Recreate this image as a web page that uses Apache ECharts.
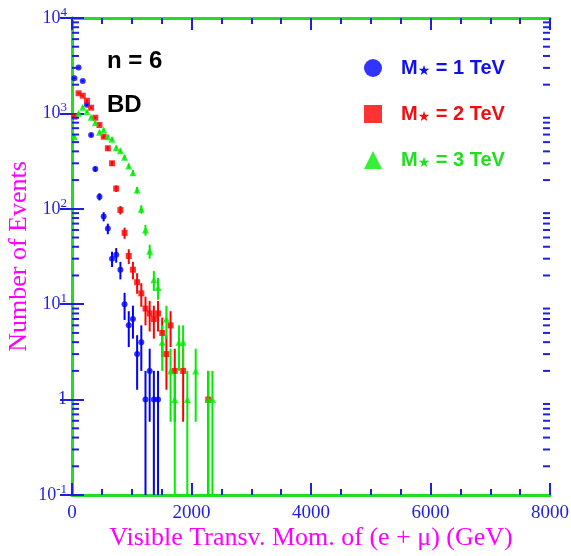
<!DOCTYPE html>
<html style="height: 100%">
<head>
  <meta charset="utf-8">
  <title>Visible transverse momentum, n = 6, BD</title>
</head>
<body style="height: 100%; margin: 0; background: #ffffff;">
  <div id="container" style="width: 571px; height: 556px;"></div>

  <script src="https://cdn.jsdelivr.net/npm/echarts@6/dist/echarts.min.js"></script>
  <script type="text/javascript">
    // bin centres in GeV (70 GeV bins)
    const binCenters = [40, 110, 180, 250, 320, 390, 460, 530, 600, 670, 740, 810, 880, 950, 1020,
      1090, 1160, 1230, 1300, 1370, 1440, 1510, 1580, 1650, 1720, 1790, 1860, 1930, 2000,
      2070, 2140, 2210, 2280, 2350];

    // events per bin (null = empty bin)
    const m1TeV = [2330, 3020, 2190, 1230, 594, 261, 134, 83, 62, 30, 33, 23, 10, 6, 7, 3, 4, 1, 2, 1, 1];
    const m2TeV = [923, 1625, 1534, 1359, 1148, 901, 755, 570, 431, 300, 163, 97, 56, 32, 23, 17, 13, 9, 8, 7, 8,
      5, 3, 6, 2, null, 2, null, null, null, null, null, 1];
    const m3TeV = [569, 1002, 1159, 1042, 910, 798, 634, 670, 570, 535, 437, 406, 347, 281, 239, 157, 99, 60, 36,
      18, 15, 4, 7, 2, 1, 4, 4, 1, null, 2, null, null, 1, 1];

    const seriesNames = ['1 TeV', '2 TeV', '3 TeV'];
    const seriesColors = ['#0000ff', '#ff0000', '#00ee00'];
    const legendColors = ['#1010ee', '#ee1010', '#22dd22'];
    const seriesSymbols = ['circle', 'rect', 'triangle'];

    // minor tick values on the log axis
    const yMinorTicks = [0.2, 0.3, 0.4, 0.5, 0.6, 0.7, 0.8, 0.9, 2, 3, 4, 5, 6, 7, 8, 9,
      20, 30, 40, 50, 60, 70, 80, 90, 200, 300, 400, 500, 600, 700, 800, 900,
      2000, 3000, 4000, 5000, 6000, 7000, 8000, 9000];

    const axisBlue = '#1f1fe0';
    const frameGreen = '#22dd22';

    const dom = document.getElementById('container');
    const myChart = echarts.init(dom, null, { renderer: 'canvas' });

    function toPoints(vals) {
      const pts = [];
      vals.forEach((v, i) => {
        if (v != null && v > 0) pts.push([binCenters[i], v]);
      });
      return pts;
    }

    function errorBars(color) {
      return function (params, api) {
        const x = api.value(0);
        const v = api.value(1);
        const e = Math.sqrt(v);
        const lo = Math.max(v - e, 0.1);
        const p1 = api.coord([x, lo]);
        const p2 = api.coord([x, v + e]);
        return {
          type: 'line',
          shape: { x1: p1[0], y1: p1[1], x2: p2[0], y2: p2[1] },
          style: { stroke: color, lineWidth: 2 }
        };
      };
    }

    function supLabel(value) {
      const p = Math.round(Math.log10(value));
      if (p === 0) return '{b|1}';
      return '{b|10}{sup|' + p + '}';
    }

    const series = [];
    const allData = [m1TeV, m2TeV, m3TeV];
    allData.forEach((vals, k) => {
      series.push({
        type: 'custom',
        name: seriesNames[k] + ' err',
        renderItem: errorBars(seriesColors[k]),
        data: toPoints(vals),
        encode: { x: 0, y: 1 },
        clip: true,
        silent: true,
        z: 2
      });
    });
    allData.forEach((vals, k) => {
      series.push({
        type: 'scatter',
        name: seriesNames[k],
        symbol: seriesSymbols[k],
        symbolSize: k === 2 ? 7 : 6,
        itemStyle: { color: seriesColors[k] },
        data: toPoints(vals),
        z: 3
      });
    });

    // minor ticks on left and right edges
    series.push({
      type: 'custom',
      name: 'minor',
      silent: true,
      data: yMinorTicks.map(v => [0, v]),
      encode: { x: 0, y: 1 },
      renderItem: function (params, api) {
        const v = api.value(1);
        const l = api.coord([0, v]);
        const r = api.coord([8000, v]);
        return {
          type: 'group',
          children: [
            { type: 'line', shape: { x1: l[0], y1: l[1], x2: l[0] + 7, y2: l[1] }, style: { stroke: axisBlue, lineWidth: 2 } },
            { type: 'line', shape: { x1: r[0], y1: r[1], x2: r[0] - 7, y2: r[1] }, style: { stroke: axisBlue, lineWidth: 2 } }
          ]
        };
      },
      z: 4
    });

    const tickStyle = { show: true, inside: true, length: 12, lineStyle: { color: axisBlue, width: 2 } };
    const lineStyle = { show: true, lineStyle: { color: frameGreen, width: 3 } };

    const legendData = seriesNames.map((n, k) => ({
      name: n,
      icon: seriesSymbols[k],
      itemStyle: { color: seriesColors[k] },
      textStyle: {
        color: legendColors[k],
        rich: {
          sp: { width: 14 },
          m: { fontSize: 20, fontWeight: 'bold', fontFamily: 'Liberation Sans', color: legendColors[k], lineHeight: 20 },
          s: { fontSize: 14, fontFamily: 'DejaVu Sans', color: legendColors[k], verticalAlign: 'bottom', lineHeight: 12 }
        }
      }
    }));

    const option = {
      animation: false,
      grid: { left: 72, right: 21, top: 18, bottom: 61, containLabel: false, outerBoundsMode: 'none' },
      legend: {
        orient: 'vertical',
        left: 359,
        top: 53,
        itemWidth: 18,
        itemHeight: 18,
        itemGap: 26,
        data: legendData,
        formatter: name => '{sp|}{m|M}{s|★}{m| = ' + name + '}'
      },
      graphic: [
        { type: 'text', left: 107, top: 49, style: { text: 'n = 6', font: 'bold 24px "Liberation Sans"', fill: '#000' } },
        { type: 'text', left: 107, top: 93, style: { text: 'BD', font: 'bold 24px "Liberation Sans"', fill: '#000' } }
      ],
      xAxis: [
        {
          type: 'value', position: 'bottom', min: 0, max: 8000, interval: 2000,
          name: 'Visible Transv. Mom. of (e + \u03bc) (GeV)',
          nameLocation: 'middle', nameGap: 30, nameMoveOverlap: false,
          nameTextStyle: { color: '#ff00ff', fontFamily: 'Liberation Serif', fontSize: 26 },
          axisLine: lineStyle, axisTick: tickStyle,
          minorTick: { show: true, splitNumber: 4, length: 6, lineStyle: { color: axisBlue, width: 2 } },
          axisLabel: { color: axisBlue, fontFamily: 'Liberation Serif', fontSize: 19, margin: 9, formatter: v => String(v) },
          splitLine: { show: false }
        },
        {
          type: 'value', position: 'top', min: 0, max: 8000, interval: 2000,
          axisLine: lineStyle, axisTick: tickStyle,
          minorTick: { show: true, splitNumber: 4, length: 6, lineStyle: { color: axisBlue, width: 2 } },
          axisLabel: { show: false }, splitLine: { show: false }
        }
      ],
      yAxis: [
        {
          type: 'log', logBase: 10, position: 'left', min: 0.1, max: 10000,
          name: 'Number of Events', nameLocation: 'middle', nameGap: 40, nameRotate: 90, nameMoveOverlap: false,
          nameTextStyle: { color: '#ff00ff', fontFamily: 'Liberation Serif', fontSize: 26 },
          axisLine: lineStyle, axisTick: tickStyle,
          axisLabel: {
            margin: 5,
            formatter: supLabel,
            rich: {
              b: { color: axisBlue, fontFamily: 'Liberation Serif', fontSize: 18 },
              sup: { color: axisBlue, fontFamily: 'Liberation Serif', fontSize: 13, verticalAlign: 'top', lineHeight: 24 }
            }
          },
          splitLine: { show: false }
        },
        {
          type: 'log', logBase: 10, position: 'right', min: 0.1, max: 10000,
          axisLine: lineStyle, axisTick: tickStyle,
          axisLabel: { show: false }, splitLine: { show: false }
        }
      ],
      series: series
    };

    myChart.setOption(option);
    window.addEventListener('resize', myChart.resize);
  </script>
</body>
</html>
